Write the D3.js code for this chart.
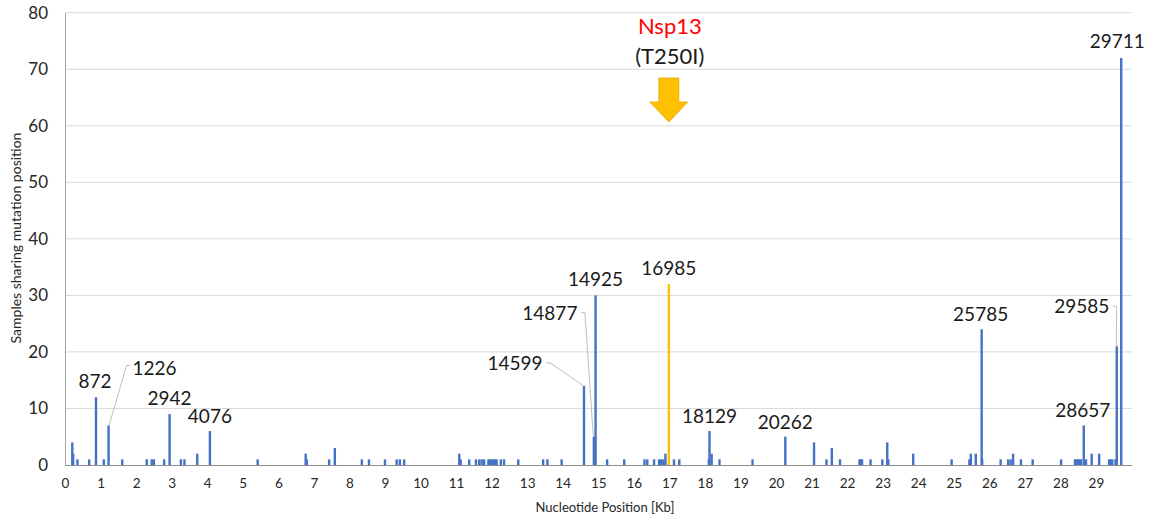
<!DOCTYPE html>
<html>
<head>
<meta charset="utf-8">
<script src="https://cdn.jsdelivr.net/npm/d3@7/dist/d3.min.js"></script>
<style>
  html, body { margin: 0; padding: 0; background: #fff; }
  svg { display: block; font-family: Lato, "Open Sans", sans-serif; }
</style>
</head>
<body>
<svg id="chart" width="1151" height="519"></svg>
<script>
// ---- DATA ----
// nucleotide positions in Kb
const positions = [
  0.205, 0.23, 0.35, 0.68, 0.872, 1.09, 1.226, 1.61, 2.30, 2.44, 2.50, 2.79, 2.942,
  3.26, 3.36, 3.72, 4.076, 5.42, 6.77, 6.80, 7.43, 7.59,
  8.35, 8.55, 9.00, 9.33, 9.42, 9.54, 11.09, 11.13, 11.37, 11.56, 11.65, 11.72, 11.79,
  11.91, 11.95, 12.00, 12.05, 12.10, 12.14, 12.26, 12.35, 12.75, 13.45, 13.57, 13.97,
  14.599, 14.877, 14.925, 15.25, 15.73, 16.30, 16.38, 16.57, 16.71, 16.77, 16.83, 16.89,
  16.985, 17.13, 17.28, 18.11, 18.129, 18.19, 18.41, 19.34, 20.262, 21.07, 21.42, 21.57,
  21.80, 22.35, 22.38, 22.42, 22.66, 22.99, 23.13, 23.16, 23.86,
  24.94, 25.44, 25.48, 25.62, 25.785, 25.80, 26.32, 26.53, 26.60, 26.67, 26.89, 27.22,
  28.02, 28.41, 28.45, 28.50, 28.54, 28.58, 28.657, 28.72, 28.88, 29.09,
  29.37, 29.42, 29.46, 29.55, 29.585, 29.711
];
// samples sharing the mutation position
const samples = [
  4, 2, 1, 1, 12, 1, 7, 1, 1, 1, 1, 1, 9,
  1, 1, 2, 6, 1, 2, 1, 1, 3,
  1, 1, 1, 1, 1, 1, 2, 1, 1, 1, 1, 1, 1,
  1, 1, 1, 1, 1, 1, 1, 1, 1, 1, 1, 1,
  14, 5, 30, 1, 1, 1, 1, 1, 1, 1, 1, 2,
  32, 1, 1, 1, 6, 2, 1, 1, 5, 4, 1, 3,
  1, 1, 1, 1, 1, 1, 4, 1, 2,
  1, 1, 2, 2, 24, 1, 1, 1, 1, 2, 1, 1,
  1, 1, 1, 1, 1, 1, 7, 1, 2, 2,
  1, 1, 1, 1, 21, 72
];
const highlighted = [16.985];
const labelledPositions = [0.872, 1.226, 2.942, 4.076, 14.599, 14.877, 14.925, 16.985,
  18.129, 20.262, 25.785, 28.657, 29.585, 29.711];
const labelTexts = ["872", "1226", "2942", "4076", "14599", "14877", "14925", "16985",
  "18129", "20262", "25785", "28657", "29585", "29711"];
const xTicks = d3.range(0, 30);
const yTicks = [0, 10, 20, 30, 40, 50, 60, 70, 80];
const annotationTitle = "Nsp13";
const annotationSub = "(T250I)";
const xTitle = "Nucleotide Position [Kb]";
const yTitle = "Samples sharing mutation position";

// ---- LAYOUT (pixel offsets of labels from their bar top; not data) ----
const labelLayout = {
  "872":   {dx: -1, dy: -9},
  "1226":  {dx: 46, dy: -50, leader: true},
  "2942":  {dx: 0, dy: -9},
  "4076":  {dx: 0, dy: -8},
  "14599": {dx: -69, dy: -16, leader: true},
  "14877": {dx: -44, dy: -117, leader: true},
  "14925": {dx: 0, dy: -9},
  "16985": {dx: 0, dy: -9},
  "18129": {dx: 0, dy: -8},
  "20262": {dx: 0, dy: -8},
  "25785": {dx: -1, dy: -8},
  "28657": {dx: -1, dy: -8},
  "29585": {dx: -35, dy: -33, leader: true},
  "29711": {dx: -4, dy: -10}
};

const svg = d3.select("#chart");
const x = d3.scaleLinear().domain([0, 30]).range([65, 65 + 30 * 35.55]);
const y = d3.scaleLinear().domain([0, 80]).range([465, 12.7]);
const plotRight = 1132;

// gridlines
svg.append("g").selectAll("line").data(yTicks.filter(d => d > 0)).join("line")
  .attr("x1", 65).attr("x2", plotRight)
  .attr("y1", d => y(d)).attr("y2", d => y(d))
  .attr("stroke", "#d9d9d9").attr("stroke-width", 1);

// y axis
const yAxis = svg.append("g").attr("transform", "translate(65,0)")
  .call(d3.axisLeft(y).tickValues(yTicks).tickSize(0).tickPadding(17));
yAxis.select(".domain").attr("stroke", "#a6a6a6");
yAxis.selectAll("text").attr("font-size", 17).attr("fill", "#262626")
  .attr("font-family", "Lato, sans-serif");

// bars
const data = positions.map((p, i) => ({pos: p, val: samples[i]}));
svg.append("g").selectAll("rect").data(data).join("rect")
  .attr("x", d => x(d.pos) - 1.2)
  .attr("width", 2.4)
  .attr("y", d => y(d.val))
  .attr("height", d => y(0) - y(d.val))
  .attr("fill", d => highlighted.includes(d.pos) ? "#FFC000" : "#4472C4");

// x axis
const xAxis = svg.append("g").attr("transform", `translate(0,${y(0)})`)
  .call(d3.axisBottom(x).tickValues(xTicks).tickSize(0).tickPadding(13).tickFormat(d3.format("d")));
xAxis.select(".domain").attr("stroke", "#8c8c8c").attr("d", `M65,0.5H${plotRight}`);
xAxis.selectAll("text").attr("font-size", 13.5).attr("fill", "#262626")
  .attr("font-family", "Lato, sans-serif");

// axis titles
svg.append("text").attr("x", 605).attr("y", 512).attr("text-anchor", "middle")
  .attr("font-size", 13).attr("fill", "#262626").text(xTitle);
svg.append("text").attr("transform", "translate(21,238) rotate(-90)")
  .attr("text-anchor", "middle").attr("font-size", 14).attr("fill", "#262626").text(yTitle);

// labels and leaders
labelledPositions.forEach((p, i) => {
  const t = labelTexts[i];
  const v = samples[positions.indexOf(p)];
  const lay = labelLayout[t];
  const bx = x(p), by = y(v);
  const lx = bx + lay.dx, ly = by + lay.dy;
  svg.append("text").attr("x", lx).attr("y", ly).attr("text-anchor", "middle")
    .attr("font-size", 19).attr("fill", "#1a1a1a").text(t);
  if (lay.leader) {
    let pts;
    if (lay.dx > 0) {
      const sx = lx - 28, sy = ly - 10;
      pts = [[sx + 4, sy], [sx, sy], [bx + 0.5, by]];
    } else {
      const sx = lx + 31, sy = ly - 7;
      pts = [[sx, sy], [sx + 4, sy], [bx - 0.5, by]];
    }
    svg.append("path").attr("d", d3.line()(pts))
      .attr("fill", "none").attr("stroke", "#bfbfbf").attr("stroke-width", 1);
  }
});

// Nsp13 annotation with arrow
const ax = x(highlighted[0]);
svg.append("text").attr("x", ax + 1).attr("y", 34).attr("text-anchor", "middle")
  .attr("font-size", 22).attr("fill", "#ff0000").text(annotationTitle);
svg.append("text").attr("x", ax + 1).attr("y", 64).attr("text-anchor", "middle")
  .attr("font-size", 22).attr("fill", "#1a1a1a").text(annotationSub);
const arrow = [[ax - 10, 78], [ax + 10, 78], [ax + 10, 102], [ax + 19, 102],
  [ax, 122], [ax - 19, 102], [ax - 10, 102]];
svg.append("path").attr("d", d3.line()(arrow) + "Z")
  .attr("fill", "#FFC000").attr("stroke", "#E6A800").attr("stroke-width", 0.8);
</script>
</body>
</html>
